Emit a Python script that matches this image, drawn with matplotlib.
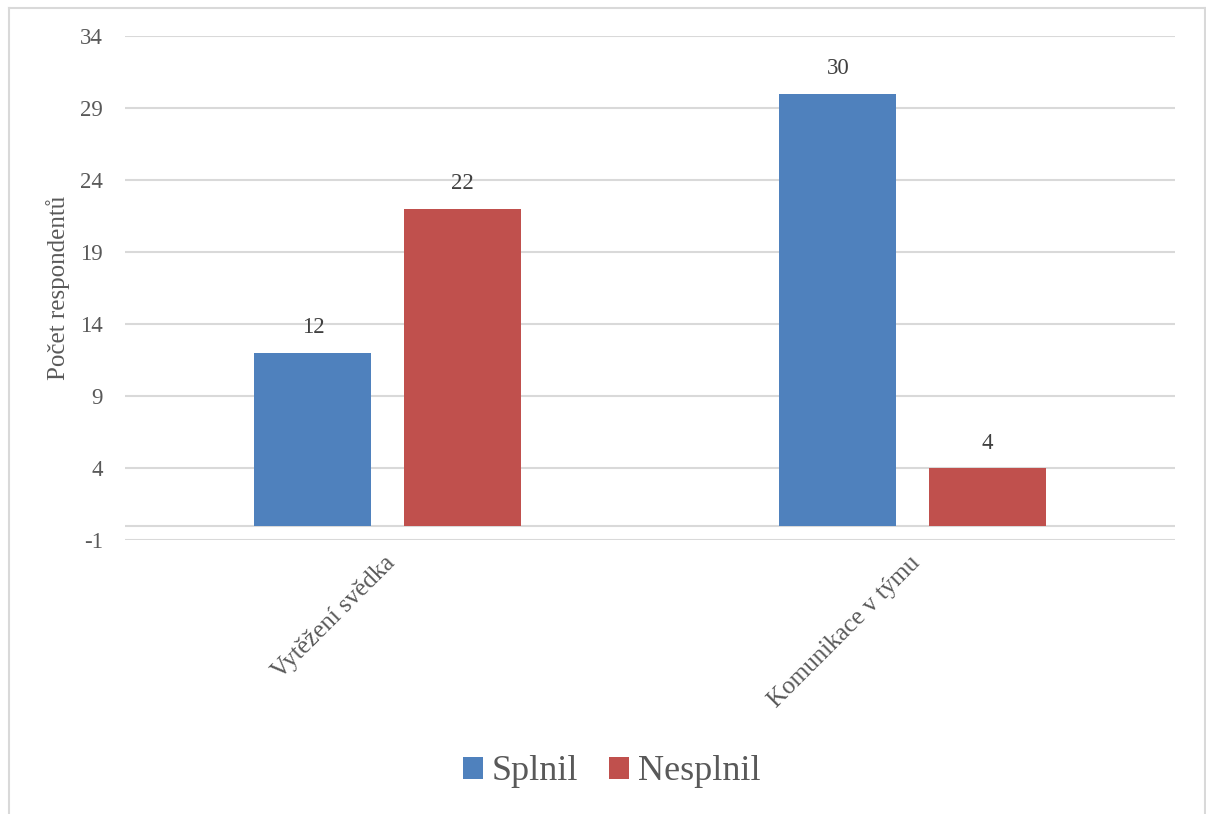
import matplotlib.pyplot as plt
import numpy as np
from matplotlib.lines import Line2D
from matplotlib.transforms import ScaledTranslation

categories = ["Vytěžení svědka", "Komunikace v týmu"]
splnil = [12, 30]
nesplnil = [22, 4]
series_names = ["Splnil", "Nesplnil"]
y_ticks = [-1, 4, 9, 14, 19, 24, 29, 34]

BLUE = "#4F81BD"
RED = "#C0504D"
GRID = "#D9D9D9"
TEXT = "#595959"

plt.rcParams["font.family"] = ["Liberation Serif", "DejaVu Serif"]
plt.rcParams["axes.unicode_minus"] = False

W, H = 1206, 814
fig = plt.figure(figsize=(W / 100, H / 100), dpi=100)
ax = fig.add_axes([125 / W, 1 - 540 / H, 1050 / W, 504 / H])

x = np.arange(len(categories))
width = 0.223
offset = 0.142
bars1 = ax.bar(x - offset, splnil, width, color=BLUE, label=series_names[0], zorder=3)
bars2 = ax.bar(x + offset, nesplnil, width, color=RED, label=series_names[1], zorder=3)

for bars in (bars1, bars2):
    for b in bars:
        ax.text(b.get_x() + b.get_width() / 2, b.get_height() + 1.0, str(int(b.get_height())),
                ha="center", va="bottom", fontsize=16.5, color="#404040")

ax.set_xlim(-0.5, len(categories) - 0.5)
ax.set_ylim(-1, 34)
ax.set_yticks(y_ticks)
ax.yaxis.grid(True, color=GRID, linewidth=1.5, zorder=0)
ax.axhline(0, color=GRID, linewidth=1.5, zorder=1)
for s in ax.spines.values():
    s.set_visible(False)
ax.tick_params(axis="both", length=0, labelcolor=TEXT, labelsize=16.5)
ax.tick_params(axis="y", pad=16)
ax.set_xticks(x)
ax.set_xticklabels(categories, rotation=45, ha="right", rotation_mode="anchor", fontsize=18)
ax.tick_params(axis="x", pad=9)
shift = ScaledTranslation(-0.04, 0, fig.dpi_scale_trans)
for lbl in ax.get_xticklabels():
    lbl.set_transform(lbl.get_transform() + shift)
ax.set_ylabel("Počet respondentů", fontsize=18, color=TEXT, labelpad=7)

leg = fig.legend(handles=[bars1, bars2], labels=series_names, loc="center",
                 bbox_to_anchor=(612 / W, 1 - 772 / H), ncol=2, frameon=False,
                 fontsize=26, handlelength=0.55, handleheight=0.55, handletextpad=0.25,
                 columnspacing=0.85)
for t in leg.get_texts():
    t.set_color(TEXT)

# light frame around the chart area
fx0, fx1 = 8.5 / W, 1204.5 / W
fy1 = 1 - 7.5 / H
for xs, ys in (([fx0, fx0], [0, fy1]), ([fx0, fx1], [fy1, fy1]), ([fx1, fx1], [fy1, 0])):
    fig.add_artist(Line2D(xs, ys, color=GRID, linewidth=1.5, transform=fig.transFigure))

fig.savefig("out.png", dpi=100)
